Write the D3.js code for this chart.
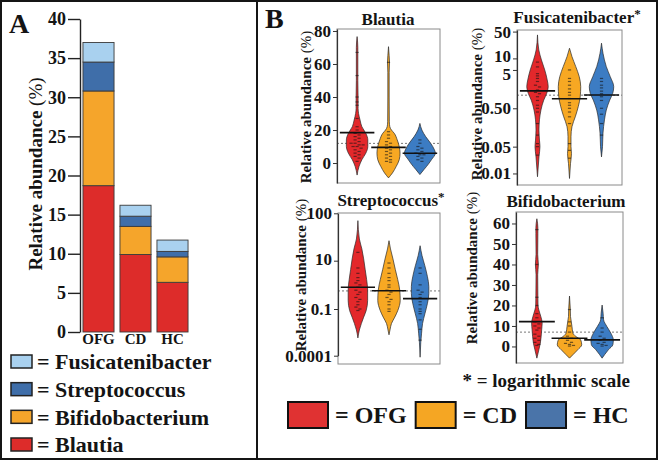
<!DOCTYPE html>
<html><head><meta charset="utf-8">
<script src="https://cdn.jsdelivr.net/npm/d3@7"></script>
<style>
body{margin:0;background:#fff;}
svg{display:block;}
text{font-family:"Liberation Serif","DejaVu Serif",serif;font-weight:bold;fill:#141414;}
</style></head><body><svg id="c" width="661" height="461"></svg>
<script>
// ---------------- Panel A data ----------------
const groups = ["OFG", "CD", "HC"];
const genera = ["Blautia", "Bifidobacterium", "Streptococcus", "Fusicatenibacter"];
const blautiaMean = [18.7, 9.9, 6.35];
const bifidoMean = [12.1, 3.6, 3.25];
const streptoMean = [3.7, 1.3, 0.7];
const fusiMean = [2.5, 1.4, 1.45];
const barTicks = [0, 5, 10, 15, 20, 25, 30, 35, 40];
const generaColors = ["#dd2c2a", "#f5a52b", "#3f6ea9", "#a9d1ef"];
const groupColors = ["#e3282b", "#f7a823", "#3c7cc3"];
const legendColorsB = ["#e03232", "#f5a623", "#4a74a9"];

// ---------------- Panel B data: Blautia (linear) ----------------
const blautiaTicks = [0, 20, 40, 60, 80];
const blautiaViolinOFG = [[76.6,0],[70,0.045],[50,0.045],[40,0.06],[33,0.06],[30,0.09],[26,0.18],[22,0.29],[18,0.53],[14,0.65],[10,0.65],[6,0.53],[2,0.29],[-2,0.12],[-7.3,0]];
const blautiaViolinCD = [[70.5,0],[65,0.04],[61,0.06],[55,0.04],[40,0.04],[25,0.05],[22,0.08],[20,0.18],[18,0.35],[14,0.53],[10,0.65],[6,0.7],[2,0.65],[-2,0.47],[-6,0.24],[-9,0]];
const blautiaViolinHC = [[24,0],[20,0.12],[16,0.35],[12,0.65],[8,0.88],[6,0.94],[2,0.7],[-2,0.41],[-4,0.24],[-7,0]];
const blautiaPointsOFG = [67,53,40,37,35,27,22,20,18,17,16,15,14,13,12,12,11,11,10,10,9,8,7,6,5,4,3,1];
const blautiaPointsCD = [61,19,17,15,13,12,11,10,9,8,7,6,5,4,3,2,1,0.5];
const blautiaPointsHC = [14,12,10,9,8,7,6,5,5,4,3,2,1];
const blautiaGroupMeans = [18.4, 9.5, 5.9];
const blautiaOverall = 11.9;

// ---------------- Fusicatenibacter (log) ----------------
const fusiTicks = [0.01, 0.05, 0.5, 5, 10, 50];
const fusiTickLabels = ["0.01", "0.05", "0.50", "5", "10", "50"];
const fusiViolinOFG = [[41,0],[16.6,0.08],[9.1,0.24],[5.0,0.44],[2.74,0.59],[1.83,0.65],[1.23,0.56],[0.82,0.38],[0.45,0.21],[0.25,0.12],[0.135,0.09],[0.074,0.12],[0.05,0.15],[0.027,0.09],[0.0082,0]];
const fusiViolinCD = [[18.4,0],[11.1,0.15],[6.1,0.38],[3.34,0.59],[1.83,0.68],[1.0,0.65],[0.55,0.53],[0.30,0.35],[0.166,0.15],[0.091,0.09],[0.05,0.09],[0.033,0.12],[0.018,0.06],[0.0074,0]];
const fusiViolinHC = [[24.9,0],[13.6,0.09],[6.1,0.29],[3.34,0.53],[1.83,0.74],[1.23,0.68],[0.82,0.5],[0.45,0.29],[0.25,0.18],[0.113,0.09],[0.05,0.06],[0.027,0]];
const fusiPointsOFG = [8,6,4,3.5,3,2.5,2,1.8,1.5,1.3,1.2,1.0,0.8,0.6,0.5,0.4,0.2,0.1,0.06,0.05,0.03];
const fusiPointsCD = [5,3,2.5,2,1.6,1.3,1.1,0.9,0.7,0.6,0.5,0.4,0.3,0.2,0.06,0.04,0.025];
const fusiPointsHC = [3,2.5,2,1.7,1.4,1.2,1.0,0.8,0.5,0.35,0.2,0.1];
const fusiGroupMeans = [1.42, 0.89, 1.11];
const fusiOverall = 1.1;

// ---------------- Streptococcus (log) ----------------
const streptoTicks = [0.0001, 0.1, 10, 100];
const streptoTickLabels = ["0.0001", "0.1", "10", "100"];
const streptoViolinOFG = [[70,0],[28.7,0.09],[17.7,0.24],[10.9,0.35],[4.4,0.44],[1.64,0.53],[0.61,0.59],[0.227,0.59],[0.0785,0.5],[0.030,0.35],[0.0117,0.21],[0.0045,0.09],[0.00138,0]];
const streptoViolinCD = [[26.4,0],[17.7,0.09],[10.9,0.24],[4.4,0.38],[1.64,0.53],[0.61,0.65],[0.227,0.68],[0.0785,0.53],[0.030,0.35],[0.0117,0.15],[0.0045,0.06],[0.0022,0]];
const streptoViolinHC = [[20.7,0],[12.7,0.12],[6.1,0.29],[2.27,0.44],[0.845,0.53],[0.44,0.53],[0.164,0.44],[0.049,0.29],[0.0117,0.15],[0.0028,0.09],[0.00068,0.04],[0.00008,0]];
const streptoPointsOFG = [15,5,3,2,1.5,1.2,1,0.8,0.6,0.5,0.4,0.3,0.25,0.2,0.15,0.12,0.1,0.08];
const streptoPointsCD = [8,5,3,2,1.5,1,0.8,0.6,0.5,0.4,0.3,0.25,0.2,0.15,0.1,0.07];
const streptoPointsHC = [5,3,1,0.6,0.5,0.4,0.3,0.2,0.15,0.1,0.07,0.05,0.02,0.005,0.001];
const streptoGroupMeans = [0.80, 0.57, 0.27];
const streptoOverall = 0.56;

// ---------------- Bifidobacterium (linear) ----------------
const bifidoTicks = [0, 10, 20, 30, 40, 50, 60];
const bifidoViolinOFG = [[62.3,0],[58,0.06],[55,0.06],[45,0.05],[40,0.09],[35,0.05],[25,0.06],[20,0.07],[17.8,0.12],[14.6,0.24],[11.4,0.32],[8.1,0.29],[4.9,0.26],[1.6,0.21],[-1.6,0.12],[-5.7,0]];
const bifidoViolinCD = [[24.6,0],[18,0.05],[14.6,0.06],[13,0.09],[9.7,0.15],[6.5,0.21],[4.9,0.38],[3.2,0.68],[0.8,0.74],[-1.6,0.5],[-4,0.21],[-5.7,0]];
const bifidoViolinHC = [[20.2,0],[16.2,0.06],[13,0.09],[9.7,0.29],[6.5,0.53],[3.2,0.68],[0.8,0.65],[-1.6,0.38],[-4,0.15],[-5.7,0]];
const bifidoPointsOFG = [57,40,24,20,16,14,12,11,10,9,8,6,5,4,3,2,1,0.5];
const bifidoPointsCD = [18,12,10,7,5,4,3,2,1.5,1,0.5,0.2];
const bifidoPointsHC = [14,9,7,5,4,3,2,1.5,1,0.5,0.2];
const bifidoGroupMeans = [12.1, 4.0, 3.2];
const bifidoOverall = 7.0;

// =================================================================
const svg = d3.select("#c");
svg.append("rect").attr("width", 661).attr("height", 461).attr("fill", "#fff");

// ---------- Panel A ----------
const gA = svg.append("g");
const yA = d3.scaleLinear().domain([0, 40]).range([332, 19]);
const xA = d3.scaleBand().domain(groups).range([80, 191]).paddingInner(0.16).paddingOuter(0.08);
const colA = d3.scaleOrdinal().domain(genera).range(generaColors);
const rows = groups.map((g, i) => ({
  group: g, Blautia: blautiaMean[i], Bifidobacterium: bifidoMean[i],
  Streptococcus: streptoMean[i], Fusicatenibacter: fusiMean[i]
}));
const stacked = d3.stack().keys(genera)(rows);
gA.selectAll("g.layer").data(stacked).join("g").attr("class", "layer")
  .attr("fill", d => colA(d.key))
  .selectAll("rect").data(d => d).join("rect")
  .attr("x", d => xA(d.data.group)).attr("width", xA.bandwidth())
  .attr("y", d => yA(d[1])).attr("height", d => yA(d[0]) - yA(d[1]))
  .attr("stroke", "#3a3a3a").attr("stroke-width", 0.9);

const axA = gA.append("g").attr("transform", "translate(80,0)")
  .call(d3.axisLeft(yA).tickValues(barTicks).tickSize(12).tickSizeOuter(0).tickPadding(2));
axA.selectAll("path,line").attr("stroke", "#222").attr("stroke-width", 1.4);
axA.selectAll("text").style("font-size", "18px").attr("fill", "#141414")
  .style("font-family", "'Liberation Serif',serif").style("font-weight", "bold");

gA.selectAll("text.xl").data(groups).join("text").attr("class", "xl")
  .attr("x", d => xA(d) + xA.bandwidth() / 2).attr("y", 344)
  .attr("text-anchor", "middle").style("font-size", "15px").text(d => d);

const yt = gA.append("text").attr("transform", "translate(35,174) rotate(-90)")
  .attr("text-anchor", "middle").attr("dy", "0.35em").style("font-size", "19px");
yt.append("tspan").text("Relative abundance ");
yt.append("tspan").style("font-weight", "normal").text("(%)");

gA.append("text").attr("x", 9).attr("y", 33).style("font-size", "28px").text("A");

const legOrder = genera.slice().reverse();
const legY = d3.scalePoint().domain(legOrder).range([362, 445]);
const legA = gA.selectAll("g.lg").data(legOrder).join("g").attr("class", "lg")
  .attr("transform", d => `translate(0,${legY(d)})`);
legA.append("rect").attr("x", 11).attr("y", -7).attr("width", 21).attr("height", 13)
  .attr("fill", d => colA(d)).attr("stroke", "#222").attr("stroke-width", 1.5);
legA.append("text").attr("x", 37).attr("y", 0).attr("dy", "0.33em")
  .style("font-size", "22px").text(d => "= " + d);

// ---------- Panel B ----------
const panels = [
  { title: "Blautia", star: false, x0: 337, x1: 440, y0: 29, y1: 183, titleX: 388, titleY: 25, ytX: 306, ytY: 107,
    scale: d3.scaleLinear().domain([-12.1, 81.2]).range([183, 29]), ticks: blautiaTicks, labels: blautiaTicks.map(String),
    violins: [blautiaViolinOFG, blautiaViolinCD, blautiaViolinHC], points: [blautiaPointsOFG, blautiaPointsCD, blautiaPointsHC],
    means: blautiaGroupMeans, overall: blautiaOverall },
  { title: "Fusicatenibacter", star: true, x0: 517, x1: 622, y0: 30, y1: 185, titleX: 577, titleY: 23, ytX: 477, ytY: 104,
    scale: d3.scaleLog().domain([0.005, 55]).range([185, 30]), ticks: fusiTicks, labels: fusiTickLabels,
    violins: [fusiViolinOFG, fusiViolinCD, fusiViolinHC], points: [fusiPointsOFG, fusiPointsCD, fusiPointsHC],
    means: fusiGroupMeans, overall: fusiOverall },
  { title: "Streptococcus", star: true, x0: 338, x1: 440, y0: 213, y1: 364, titleX: 391, titleY: 206, ytX: 301, ytY: 275,
    scale: d3.scaleLog().domain([0.0001, 0.1, 10, 100]).range([355.7, 309, 260.7, 213.3]), ticks: streptoTicks, labels: streptoTickLabels,
    violins: [streptoViolinOFG, streptoViolinCD, streptoViolinHC], points: [streptoPointsOFG, streptoPointsCD, streptoPointsHC],
    means: streptoGroupMeans, overall: streptoOverall },
  { title: "Bifidobacterium", star: false, x0: 516, x1: 623, y0: 212, y1: 363, titleX: 566, titleY: 207, ytX: 472, ytY: 268,
    scale: d3.scaleLinear().domain([-8.07, 65.6]).range([363, 212]), ticks: bifidoTicks, labels: bifidoTicks.map(String),
    violins: [bifidoViolinOFG, bifidoViolinCD, bifidoViolinHC], points: [bifidoPointsOFG, bifidoPointsCD, bifidoPointsHC],
    means: bifidoGroupMeans, overall: bifidoOverall }
];

const widthScale = d3.scaleLinear().domain([0, 1]).range([0, 33]);

panels.forEach(p => {
  const g = svg.append("g");
  const y = p.scale;
  const x = d3.scalePoint().domain(groups).range([p.x0, p.x1]).padding(0.64);
  const half = x.step() * 0.55;

  g.append("rect").attr("x", p.x0).attr("y", p.y0).attr("width", p.x1 - p.x0).attr("height", p.y1 - p.y0)
    .attr("fill", "none").attr("stroke", "#8a8a8a").attr("stroke-width", 1);

  // overall dotted line
  g.append("line").attr("x1", p.x0).attr("x2", p.x1).attr("y1", y(p.overall)).attr("y2", y(p.overall))
    .attr("stroke", "#777").attr("stroke-width", 1).attr("stroke-dasharray", "2,2");

  groups.forEach((grp, i) => {
    const cx = x(grp);
    const area = d3.area().curve(d3.curveMonotoneY)
      .y(d => y(d[0])).x0(d => cx - widthScale(d[1]) / 2).x1(d => cx + widthScale(d[1]) / 2);
    g.append("path").attr("d", area(p.violins[i].slice().sort((a, b) => y(a[0]) - y(b[0]))))
      .attr("fill", groupColors[i]).attr("stroke", "#2a2a2a").attr("stroke-width", 0.7);

    // points as short dashes, dodged where they collide
    const pts = p.points[i].map(v => y(v)).sort((a, b) => a - b);
    const bins = [];
    pts.forEach(py => {
      const last = bins[bins.length - 1];
      if (last && py - last.y < 2.2) last.items.push(py); else bins.push({ y: py, items: [py] });
    });
    bins.forEach(b => {
      const n = b.items.length;
      b.items.forEach((py, k) => {
        const off = (k - (n - 1) / 2) * 4;
        g.append("line").attr("x1", cx + off - 1.6).attr("x2", cx + off + 1.6).attr("y1", py).attr("y2", py)
          .attr("stroke", "rgba(20,20,20,0.6)").attr("stroke-width", 1.2);
      });
    });

    g.append("line").attr("x1", cx - half).attr("x2", cx + half)
      .attr("y1", y(p.means[i])).attr("y2", y(p.means[i]))
      .attr("stroke", "#111").attr("stroke-width", 1.6);
  });

  const ax = g.append("g").attr("transform", `translate(${p.x0},0)`)
    .call(d3.axisLeft(y).tickValues(p.ticks).tickFormat((d, j) => p.labels[j]).tickSize(4).tickSizeOuter(0).tickPadding(2));
  ax.select("path").attr("stroke", "#333").attr("stroke-width", 1.2);
  ax.selectAll("line").attr("stroke", "#333");
  ax.selectAll("text").style("font-size", "17px").attr("fill", "#141414")
    .style("font-family", "'Liberation Serif',serif").style("font-weight", "bold");
  // keep the close "10" and "5" labels of the log axis apart
  ax.selectAll(".tick text").filter(d => d === 5).attr("dy", "0.55em");
  ax.selectAll(".tick text").filter(d => d === 10 && p.star).attr("dy", "0.2em");

  const t = g.append("text").attr("x", p.titleX).attr("y", p.titleY).attr("text-anchor", "middle")
    .style("font-size", "17px").text(p.title);
  if (p.star) t.append("tspan").attr("dy", "-5").style("font-size", "13px").text("*");

  const yt2 = g.append("text").attr("transform", `translate(${p.ytX},${p.ytY}) rotate(-90)`)
    .attr("text-anchor", "middle").attr("dy", "0.35em").style("font-size", "15px");
  yt2.append("tspan").text("Relative abundance ");
  yt2.append("tspan").style("font-weight", "normal").text("(%)");
});

svg.append("text").attr("x", 630).attr("y", 387).attr("text-anchor", "end").style("font-size", "19px")
  .text("* = logarithmic scale");
svg.append("text").attr("x", 265).attr("y", 28).style("font-size", "28px").text("B");

// Legend B (flow layout)
let lx = 288;
groups.forEach((grp, i) => {
  svg.append("rect").attr("x", lx).attr("y", 402).attr("width", 40).attr("height", 26)
    .attr("fill", legendColorsB[i]).attr("stroke", "#111").attr("stroke-width", 2);
  const t = svg.append("text").attr("x", lx + 47).attr("y", 415).attr("dy", "0.35em")
    .style("font-size", "24px").text("= " + grp);
  lx += 47 + t.node().getComputedTextLength() + 9;
});

// frame
svg.append("rect").attr("x", 1).attr("y", 1).attr("width", 656).attr("height", 458)
  .attr("fill", "none").attr("stroke", "#151515").attr("stroke-width", 2);
svg.append("line").attr("x1", 257).attr("x2", 257).attr("y1", 1).attr("y2", 459)
  .attr("stroke", "#151515").attr("stroke-width", 2);
</script></body></html>
